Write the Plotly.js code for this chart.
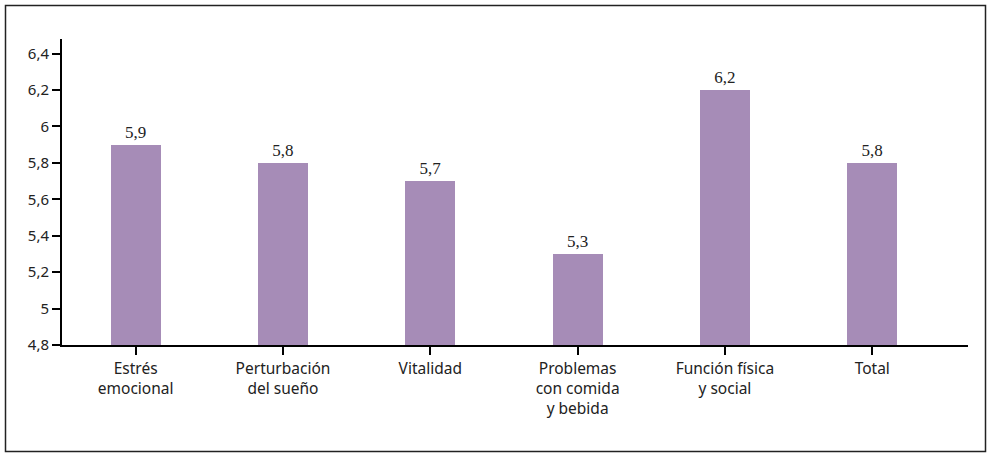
<!DOCTYPE html>
<html>
<head>
<meta charset="utf-8">
<script src="https://cdn.plot.ly/plotly-3.0.1.min.js"></script>
<style>html,body{margin:0;padding:0;background:#fff;}#chart{width:990px;height:453px;}</style>
</head>
<body>
<div id="chart"></div>
<script>
var categories = ["Estrés<br>emocional", "Perturbación<br>del sueño", "Vitalidad", "Problemas<br>con comida<br>y bebida", "Función física<br>y social", "Total"];
var values = [5.9, 5.8, 5.7, 5.3, 6.2, 5.8];
var yTicks = [4.8, 5, 5.2, 5.4, 5.6, 5.8, 6, 6.2, 6.4];

var W = 990, H = 453;
var L = 62, R = 22, T = 39, B = 108;
var pw = W - L - R, ph = H - T - B;
function px(x){ return (x - L) / pw; }
function py(y){ return (H - B - y) / ph; }

var trace = {
  type: "bar",
  x: categories.map(function(_, i){ return i; }),
  y: values,
  marker: {color: "#A68CB7"},
  width: 0.34,
  texttemplate: "%{y:.1f}",
  textposition: "outside",
  cliponaxis: false,
  textfont: {family: "Liberation Serif, serif", size: 17, color: "#222"},
  hoverinfo: "skip"
};

var layout = {
  width: W, height: H,
  margin: {l: L, r: R, t: T, b: B, pad: 0},
  paper_bgcolor: "#fff",
  plot_bgcolor: "#fff",
  separators: ",.",
  showlegend: false,
  bargap: 0,
  font: {family: "Noto Sans, sans-serif", size: 15, color: "#222"},
  xaxis: {
    range: [-0.5, 5.65],
    tickmode: "array",
    tickvals: categories.map(function(_, i){ return i; }),
    ticktext: categories,
    tickson: "boundaries",
    ticks: "outside",
    ticklen: 8,
    tickwidth: 2,
    tickcolor: "#000",
    showline: true,
    linecolor: "#000",
    linewidth: 2,
    showgrid: false,
    zeroline: false,
    fixedrange: true,
    tickfont: {family: "Noto Sans, sans-serif", size: 15.5, color: "#222"}
  },
  yaxis: {
    range: [4.8, 6.48],
    tickmode: "array",
    tickvals: yTicks,
    ticktext: yTicks.map(function(v){ return String(v).replace(".", ","); }),
    ticks: "outside",
    ticklen: 8,
    tickwidth: 2,
    tickcolor: "#000",
    showline: true,
    linecolor: "#000",
    linewidth: 2,
    showgrid: false,
    zeroline: false,
    fixedrange: true,
    tickfont: {family: "Noto Sans, sans-serif", size: 15, color: "#222"}
  },
  shapes: [{
    type: "rect", xref: "paper", yref: "paper",
    x0: px(5.5), x1: px(985.5), y0: py(451.5), y1: py(5.5),
    line: {color: "#222", width: 1.5},
    fillcolor: "rgba(0,0,0,0)", layer: "below"
  }]
};

Plotly.newPlot("chart", [trace], layout, {displayModeBar: false, staticPlot: true});
</script>
</body>
</html>
